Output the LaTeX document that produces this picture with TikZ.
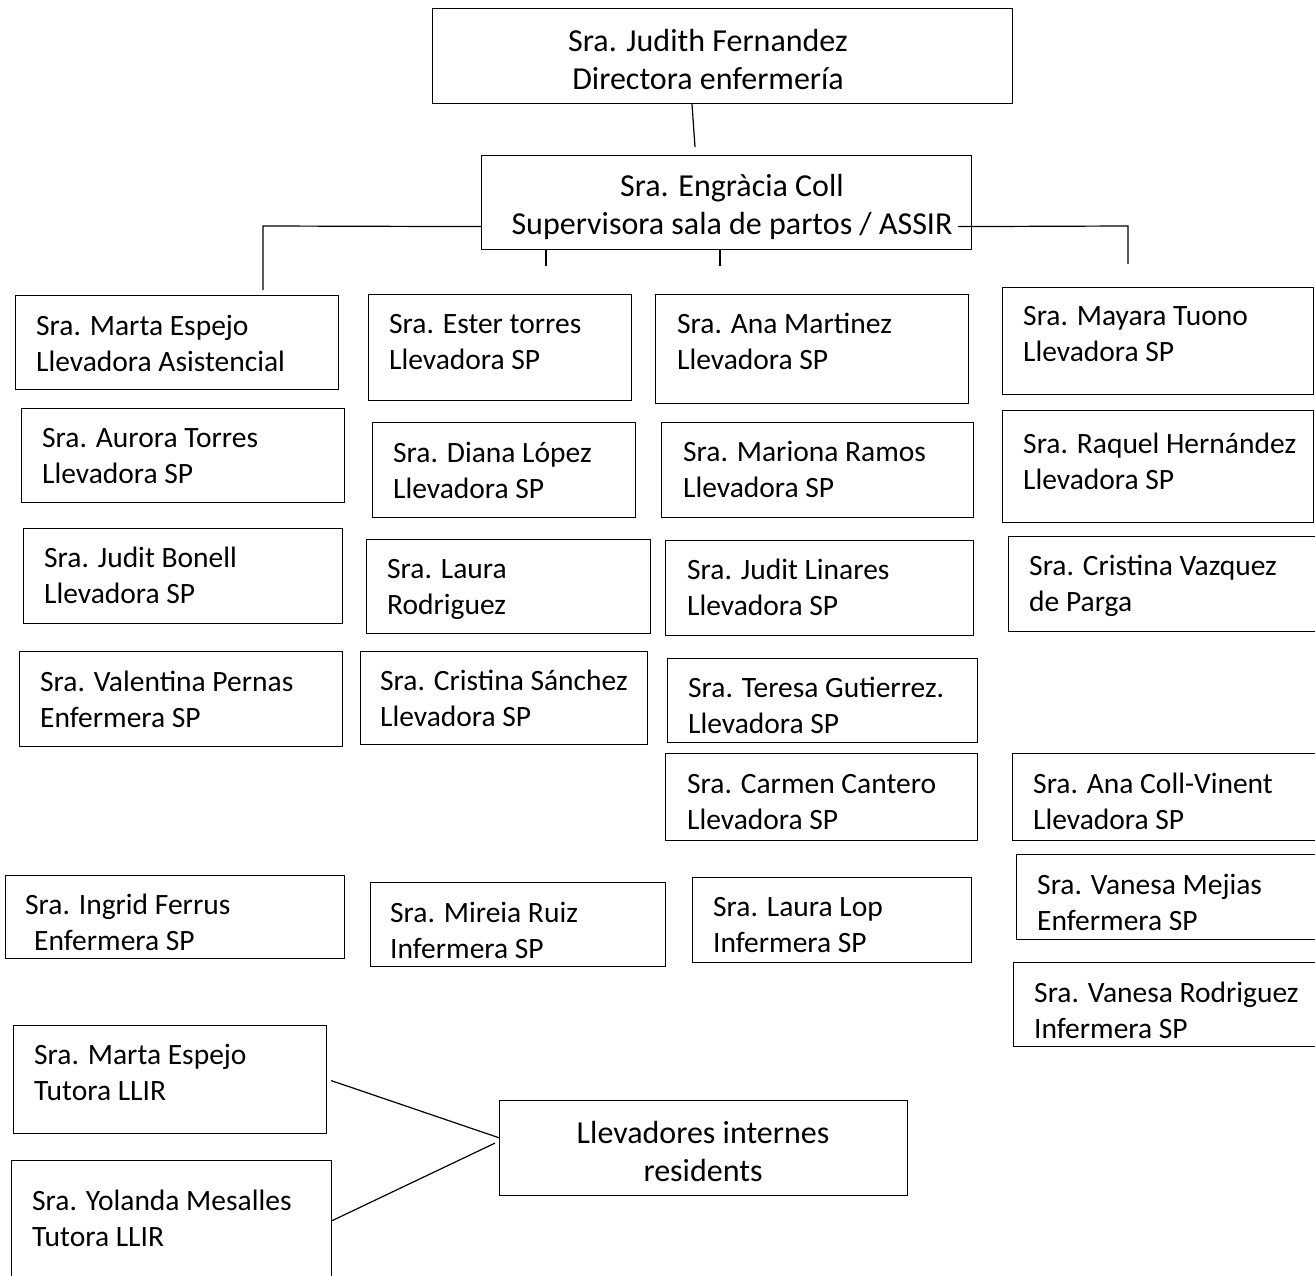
\documentclass[tikz,border=0pt]{standalone}
\usepackage{fontspec}
\setmainfont{Carlito}
\usetikzlibrary{calc}
\tikzset{
  box/.style={draw=black, line width=1.2pt, inner sep=0pt, anchor=north west, rectangle},
  txt/.style={font=\fontsize{29.5}{36}\selectfont, inner sep=0pt, align=left, anchor=base west},
  ctxt/.style={font=\fontsize{32}{38}\selectfont, inner sep=0pt, align=center, anchor=base},
  conn/.style={draw=black, line width=1.2pt},
}
% the base anchor of a two-line node is the baseline of its second line
\newcommand\obox[8]{%
  \node[box, minimum width={(#4)-(#2)}, minimum height={(#5)-(#3)}] (#1) at (#2,#3) {};
  \node[txt] (#1t) at (#6,{#7+36}) {#8};
}
\begin{document}
\begin{tikzpicture}[x=1pt,y=-1pt]
\clip (0,0) rectangle (1315,1276);
\fill[white] (0,0) rectangle (1315,1276);

% top
\node[box, minimum width=580, minimum height=95] (j) at (432,8) {};
\node[ctxt] (jt) at (708,90) {Sra. Judith Fernandez\\Directora enfermería};
\node[box, minimum width=490, minimum height=94] (e) at (481,155) {};
\node[ctxt] (et) at (732,235) {Sra. Engràcia Coll\\Supervisora sala de partos / ASSIR};

% column 1
\obox{c1a}{15}{295}{338}{389}{36}{335}{Sra. Marta Espejo\\Llevadora Asistencial}
\obox{c1b}{21}{408}{344}{502}{42}{447}{Sra. Aurora Torres\\Llevadora SP}
\obox{c1c}{23}{528}{342}{623}{44}{567}{Sra. Judit Bonell\\Llevadora SP}
\obox{c1d}{19}{651}{342}{746}{40}{691}{Sra. Valentina Pernas\\Enfermera SP}
\obox{c1e}{5}{875}{344}{958}{25}{914}{Sra. Ingrid Ferrus\\\hspace*{9pt}Enfermera SP}

% column 2
\obox{c2a}{368}{294}{631}{400}{389}{333}{Sra. Ester torres\\Llevadora SP}
\obox{c2b}{372}{422}{635}{517}{393}{462}{Sra. Diana López\\Llevadora SP}
\obox{c2c}{366}{539}{650}{633}{387}{578}{Sra. Laura\\Rodriguez}
\obox{c2d}{360}{651}{647}{744}{380}{690}{Sra. Cristina Sánchez\\Llevadora SP}
\obox{c2e}{370}{882}{665}{966}{390}{922}{Sra. Mireia Ruiz\\Infermera SP}

% column 3
\obox{c3a}{655}{294}{968}{403}{677}{333}{Sra. Ana Martinez\\Llevadora SP}
\obox{c3b}{661}{422}{973}{517}{683}{461}{Sra. Mariona Ramos\\Llevadora SP}
\obox{c3c}{665}{540}{973}{635}{687}{579}{Sra. Judit Linares\\Llevadora SP}
\obox{c3d}{667}{658}{977}{742}{688}{697}{Sra. Teresa Gutierrez.\\Llevadora SP}
\obox{c3e}{665}{753}{977}{840}{687}{793}{Sra. Carmen Cantero\\Llevadora SP}
\obox{c3f}{692}{877}{971}{962}{713}{916}{Sra. Laura Lop\\Infermera SP}

% column 4
\obox{c4a}{1002}{287}{1313}{394}{1023}{325}{Sra. Mayara Tuono\\Llevadora SP}
\obox{c4b}{1002}{410}{1313}{522}{1023}{453}{Sra. Raquel Hernández\\Llevadora SP}
\obox{c4c}{1008}{536}{1325}{631}{1029}{575}{Sra. Cristina Vazquez\\de Parga}
\obox{c4d}{1012}{753}{1325}{840}{1033}{793}{Sra. Ana Coll-Vinent\\Llevadora SP}
\obox{c4e}{1016}{854}{1325}{939}{1037}{894}{Sra. Vanesa Mejias\\Enfermera SP}
\obox{c4f}{1013}{962}{1325}{1046}{1034}{1002}{Sra. Vanesa Rodriguez\\Infermera SP}

% bottom
\obox{t1}{13}{1025}{326}{1133}{34}{1064}{Sra. Marta Espejo\\Tutora LLIR}
\obox{t2}{11}{1160}{331}{1290}{32}{1210}{Sra. Yolanda Mesalles\\Tutora LLIR}
\node[box, minimum width=408, minimum height=95] (llir) at (499,1100) {};
\node[ctxt] (llirt) at (703,1181) {Llevadores internes\\residents};

% connectors
\coordinate (lt) at (263,226);
\coordinate (rt) at (1128,226);
\draw[conn] ($(j.south west)+(260,0)$) -- ($(e.north west)+(214,-8)$);
\draw[conn] ($(e.west)+(0,24)$) -- (lt) -- ($(c1a.north west)+(248,-5)$);
\draw[conn] ($(e.east)+(-14,24)$) -- (rt) -- ($(c4a.north west)+(126,-23)$);
\draw[conn] ($(e.south west)+(65,0)$) -- ++(0,16);
\draw[conn] ($(e.south west)+(239,0)$) -- ++(0,16);
\draw[conn] ($(t1.east)+(4,1)$) -- ($(llir.west)+(1,-10)$);
\draw[conn] ($(t2.east)+(0,-5)$) -- ($(llir.west)+(-4,-5)$);
\end{tikzpicture}
\end{document}
